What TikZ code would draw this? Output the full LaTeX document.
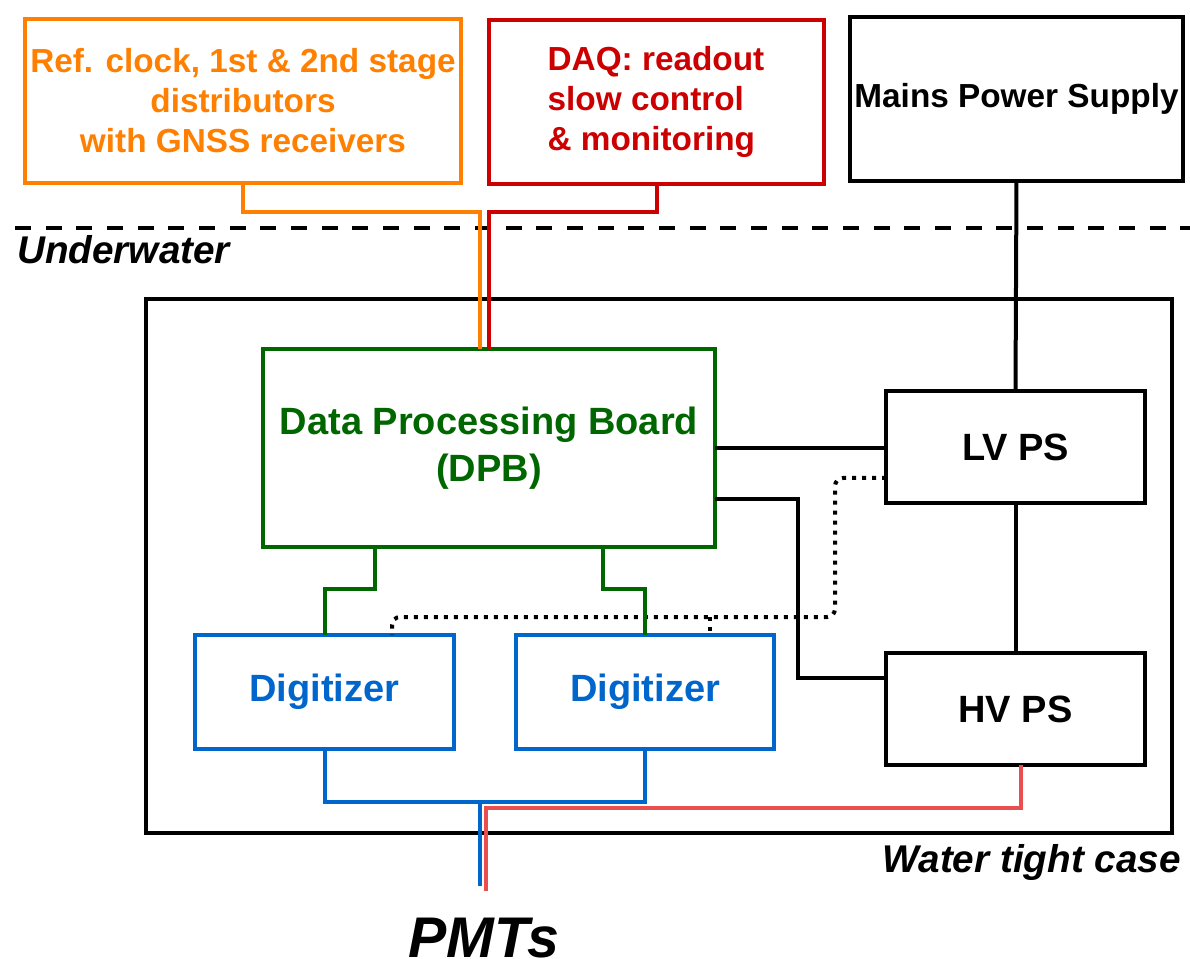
\documentclass[tikz,border=0pt]{standalone}
\usepackage{fontspec}
\setmainfont{Liberation Sans}
\usetikzlibrary{calc}
\definecolor{cOrange}{HTML}{FF8000}
\definecolor{cRed}{HTML}{CC0000}
\definecolor{cGreen}{HTML}{006600}
\definecolor{cBlue}{HTML}{0066CC}
\definecolor{cPale}{HTML}{EA4F50}
\tikzset{
  box/.style={draw, line width=3pt, inner sep=0pt, outer sep=0pt, align=center, font=\bfseries},
  topfont/.style={font=\fontsize{25}{30}\selectfont\bfseries},
  bigfont/.style={font=\fontsize{28.5}{35}\selectfont\bfseries},
  wire/.style={line width=3pt},
  dotwire/.style={line width=3pt, dash pattern=on 3pt off 4.5pt, rounded corners=6pt},
  lbl/.style={font=\fontsize{29}{34}\selectfont\bfseries\itshape, inner sep=0pt}
}
\begin{document}
\begin{tikzpicture}[x=0.75pt,y=-0.75pt]
\useasboundingbox (0,0) rectangle (1190,959);
% boxes
\node[box, draw=cOrange, text=cOrange, topfont, minimum width=327pt, minimum height=123pt] (clk) at (243,101) {Ref. clock, 1st \& 2nd stage\\distributors\\with GNSS receivers};
\node[box, draw=cRed, minimum width=251.25pt, minimum height=123pt] (daq) at (656.5,102) {};
\node[text=cRed, topfont, align=left, inner sep=0pt] (daqtxt) at (656,102) {DAQ: readout\\slow control\\\& monitoring};
\node[box, topfont, minimum width=249.75pt, minimum height=123pt] (mains) at (1016.5,99) {Mains Power Supply};
\node[box, minimum width=769.5pt, minimum height=400.5pt] (case) at (659,566) {};
\node[box, draw=cGreen, text=cGreen, bigfont, minimum width=339pt, minimum height=148.5pt] (dpb) at (489,448) {Data Processing Board\\(DPB)};
\node[box, bigfont, minimum width=194.25pt, minimum height=84pt] (lv) at (1015.5,447) {LV PS};
\node[box, bigfont, minimum width=194.25pt, minimum height=84pt] (hv) at (1015.5,709) {HV PS};
\node[box, draw=cBlue, text=cBlue, bigfont, minimum width=194.25pt, minimum height=85.5pt] (dig1) at (324.5,692) {Digitizer};
\node[box, draw=cBlue, text=cBlue, bigfont, minimum width=193.5pt, minimum height=85.5pt] (dig2) at (645,692) {Digitizer};
% labels
\draw[line width=3pt, dash pattern=on 12pt off 11pt] (15,228) -- (1190,228);
\node[lbl, anchor=west] (uw) at (17,250) {Underwater};
\node[lbl, anchor=east] (wtc) at (1181,862) {Water tight case};
\node[font=\fontsize{43}{48}\selectfont\bfseries\itshape, inner sep=0pt] (pmts) at (484,938) {PMTs};
% connectors
\draw[wire, cOrange] (clk.south) -- ++(0,29) -| ($(dpb.north)+(-9,0)$);
\draw[wire, cRed] (daq.south) -- ++(0,28) -| (dpb.north);
\draw[wire] (mains.south) -- (lv.north);
\draw[wire] (lv.south) -- (hv.north);
\draw[wire] (dpb.east) -- (dpb.east -| lv.west);
\draw[wire] ($(dpb.east)+(0,51)$) -- ++(83,0) |- ($(hv.west)+(0,-31)$);
\draw[dotwire] ($(lv.west)+(0,31)$) -| (835,617) -| ($(dig1.north)+(67.5,0)$);
\draw[line width=3pt, dash pattern=on 3pt off 4.5pt] (710,617) -- ($(dig2.north)+(65,0)$);
\draw[wire, cGreen] ($(dpb.south)+(-114,0)$) -- ++(0,42) -| (dig1.north);
\draw[wire, cGreen] ($(dpb.south)+(114,0)$) -- ++(0,42) -| (dig2.north);
\draw[wire, cBlue] (dig1.south) -- ++(0,53) -| (dig2.south);
\draw[wire, cBlue] ($(dig1.south)+(155.5,53)$) -- ++(0,84) coordinate (pmtB);
\draw[wire, cPale] ($(hv.south)+(5.5,0)$) -- ++(0,43) -| (486,891) coordinate (pmtR);
\end{tikzpicture}
\end{document}
